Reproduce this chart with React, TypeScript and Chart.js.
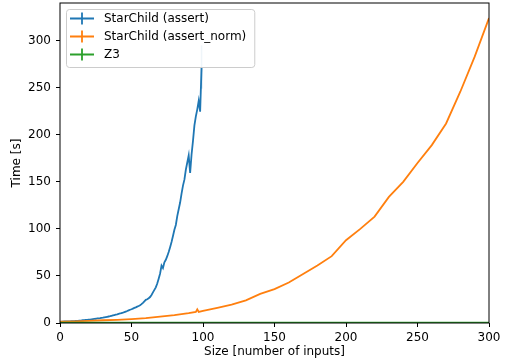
import { useEffect, useRef } from "react";
import { Chart, registerables } from "chart.js";

Chart.register(...registerables);

const TITLE_X = "Size [number of inputs]";
const TITLE_Y = "Time [s]";
const SERIES_LABELS = ["StarChild (assert)", "StarChild (assert_norm)", "Z3"];
const SERIES_COLORS = ["#1f77b4", "#ff7f0e", "#2ca02c"];
const X_TICKS = [0, 50, 100, 150, 200, 250, 300];
const Y_TICKS = [0, 50, 100, 150, 200, 250, 300];

const assertSizes = [
  1, 2, 3, 4, 5, 6, 7, 8, 9, 10, 11, 12, 13, 14, 15, 16, 17, 18, 19, 20,
  21, 22, 23, 24, 25, 26, 27, 28, 29, 30, 31, 32, 33, 34, 35, 36, 37, 38, 39, 40,
  41, 42, 43, 44, 45, 46, 47, 48, 49, 50, 51, 52, 53, 54, 55, 56, 57, 58, 59, 60,
  61, 62, 63, 64, 65, 66, 67, 68, 69, 70, 71, 72, 73, 74, 75, 76, 77, 78, 79, 80,
  81, 82, 83, 84, 85, 86, 87, 88, 89, 90, 91, 92, 93, 94, 95, 96, 97, 98, 99,
];
const assertTimes = [
  1.5, 1.5, 1.6, 1.6, 1.7, 1.7, 1.8, 1.9, 2.0, 2.1,
  2.2, 2.3, 2.4, 2.6, 2.7, 2.9, 3.0, 3.2, 3.3, 3.5,
  3.7, 3.9, 4.1, 4.3, 4.5, 4.8, 5.0, 5.2, 5.5, 5.7,
  6.0, 6.3, 6.6, 6.9, 7.2, 7.6, 8.0, 8.4, 8.8, 9.2,
  9.7, 10.1, 10.6, 11.0, 11.5, 12.1, 12.7, 13.4, 14.1, 14.6,
  15.3, 16.0, 16.6, 17.4, 18.0, 18.9, 20.0, 21.4, 23.0, 24.6,
  25.2, 26.3, 27.6, 29.8, 32.5, 35.2, 37.9, 42.0, 47.1, 52.6,
  61.0, 58.3, 64.5, 67.2, 71.0, 75.4, 80.6, 86.1, 92.4, 99.0,
  104.2, 113.5, 120.8, 128.0, 137.5, 146.0, 152.3, 162.8, 170.5, 178.0,
  159.5, 179.0, 193.5, 210.0, 219.5, 227.0, 236.0, 224.5, 272.0,
];
const assertErrSizes = [99, 99];
const assertErrTimes = [249, 295];

const normSizes = [
  0, 10, 20, 30, 40, 50, 60, 70, 80, 90, 95, 96, 97, 100, 110, 120, 130, 140,
  150, 160, 170, 180, 190, 200, 210, 220, 230, 240, 250, 260, 270, 280, 290, 300,
];
const normTimes = [
  1.5, 1.8, 2.3, 2.9, 3.4, 4.2, 5.2, 6.8, 8.3, 10.5, 11.8, 14.5, 11.8, 12.8, 16.0, 19.5, 24.0, 31.0,
  36.0, 43.0, 52.0, 61.0, 71.0, 88.0, 100.0, 113.0, 134.0, 150.0, 170.0, 189.0, 212.0, 246.0, 283.0, 324.0,
];

const z3Sizes = [0, 25, 50, 75, 100, 125, 150, 175, 200, 225, 250, 275, 300];
const z3Times = [0.3, 0.3, 0.3, 0.3, 0.3, 0.3, 0.3, 0.3, 0.3, 0.3, 0.3, 0.3, 0.3];

const FONT = "'DejaVu Sans', sans-serif";

const pts = (xs: number[], ys: number[]) => xs.map((x, i) => ({ x, y: ys[i] }));

const framePlugin = {
  id: "frameAndLegend",
  afterDatasetsDraw(chart: any) {
    const { ctx, chartArea: a } = chart;
    ctx.save();
    // axes frame
    ctx.strokeStyle = "#000";
    ctx.lineWidth = 1;
    ctx.strokeRect(a.left, a.top, a.right - a.left, a.bottom - a.top);

    // legend
    ctx.font = `12px ${FONT}`;
    const textW = Math.max(...SERIES_LABELS.map((t) => ctx.measureText(t).width));
    const lx = a.left + 6;
    const ly = a.top + 6;
    const bw = 38 + textW + 8;
    const bh = 58;
    ctx.beginPath();
    ctx.roundRect(lx + 0.5, ly + 0.5, bw, bh, 3);
    ctx.fillStyle = "rgba(255,255,255,0.8)";
    ctx.fill();
    ctx.strokeStyle = "#cccccc";
    ctx.lineWidth = 1;
    ctx.stroke();
    SERIES_LABELS.forEach((label, i) => {
      const cy = ly + 9.5 + i * 18;
      ctx.strokeStyle = SERIES_COLORS[i];
      ctx.lineWidth = 1.8;
      ctx.beginPath();
      ctx.moveTo(lx + 4, cy);
      ctx.lineTo(lx + 28, cy);
      ctx.moveTo(lx + 16, cy - 6);
      ctx.lineTo(lx + 16, cy + 6);
      ctx.stroke();
      ctx.fillStyle = "#000";
      ctx.textAlign = "left";
      ctx.textBaseline = "middle";
      ctx.fillText(label, lx + 38, cy);
    });
    ctx.restore();
  },
};

export default function App() {
  const ref = useRef<HTMLCanvasElement | null>(null);
  useEffect(() => {
    document.body.style.margin = "0";
    const canvas = ref.current;
    if (!canvas) return;
    Chart.defaults.font.family = FONT;
    Chart.defaults.font.size = 12;
    Chart.defaults.color = "#000";
    const chart = new Chart(canvas, {
      type: "line",
      data: {
        datasets: [
          {
            label: SERIES_LABELS[0],
            data: pts(assertSizes, assertTimes),
            borderColor: SERIES_COLORS[0],
            borderWidth: 1.8,
            pointRadius: 0,
            order: 3,
          },
          {
            label: "err",
            data: pts(assertErrSizes, assertErrTimes),
            borderColor: "rgba(31,119,180,0.35)",
            borderWidth: 1.5,
            pointRadius: 0,
            order: 3,
          },
          {
            label: SERIES_LABELS[1],
            data: pts(normSizes, normTimes),
            borderColor: SERIES_COLORS[1],
            borderWidth: 1.8,
            pointRadius: 0,
            order: 2,
          },
          {
            label: SERIES_LABELS[2],
            data: pts(z3Sizes, z3Times),
            borderColor: SERIES_COLORS[2],
            borderWidth: 1.8,
            pointRadius: 0,
            order: 1,
          },
        ],
      },
      options: {
        animation: false,
        responsive: false,
        maintainAspectRatio: false,
        layout: { padding: { top: 3, right: 20, left: 0, bottom: 0 } },
        plugins: { legend: { display: false }, tooltip: { enabled: false } },
        scales: {
          x: {
            type: "linear",
            min: 0,
            max: 300,
            afterBuildTicks: (s: any) => {
              s.ticks = X_TICKS.map((v) => ({ value: v }));
            },
            afterFit: (s: any) => {
              s.height = 41;
              s.paddingLeft = 0;
              s.paddingRight = 0;
            },
            grid: { drawOnChartArea: false, drawTicks: true, tickLength: 4, color: "#000" },
            border: { display: false },
            ticks: { color: "#000", padding: 4, maxRotation: 0, autoSkip: false, font: { size: 12 } },
            title: { display: true, text: TITLE_X, color: "#000", font: { size: 12 }, padding: { top: 0, bottom: 5 } },
          },
          y: {
            type: "linear",
            min: 0,
            max: 340,
            afterBuildTicks: (s: any) => {
              s.ticks = Y_TICKS.map((v) => ({ value: v }));
            },
            afterFit: (s: any) => {
              s.width = 60;
              s.paddingTop = 0;
              s.paddingBottom = 0;
            },
            grid: { drawOnChartArea: false, drawTicks: true, tickLength: 4, color: "#000" },
            border: { display: false },
            ticks: { color: "#000", padding: 5, autoSkip: false, font: { size: 12 } },
            title: { display: true, text: TITLE_Y, color: "#000", font: { size: 12 }, padding: { top: 10, bottom: 0 } },
          },
        },
      },
      plugins: [framePlugin],
    });
    return () => chart.destroy();
  }, []);
  return (
    <div style={{ width: 509, height: 364, position: "relative", background: "#fff" }}>
      <canvas ref={ref} width={509} height={364} />
    </div>
  );
}
